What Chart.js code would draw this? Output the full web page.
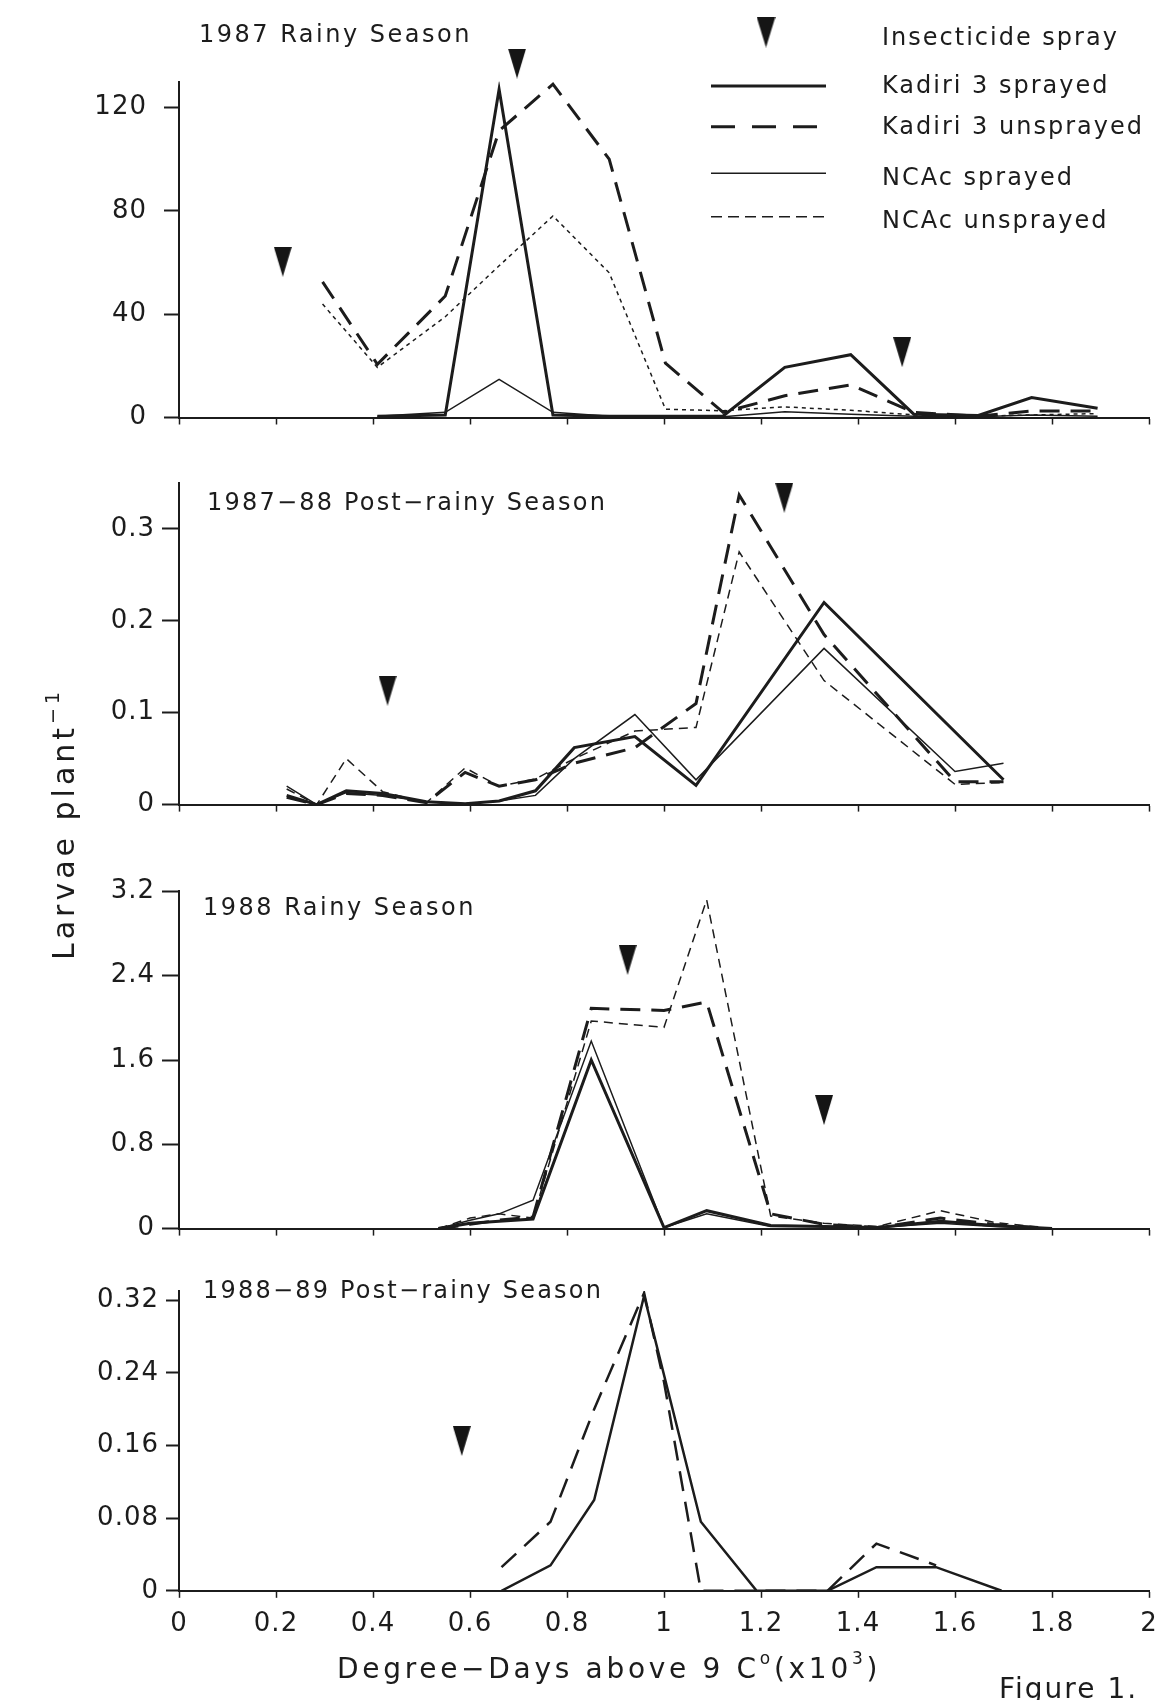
<!DOCTYPE html>
<html>
<head>
<meta charset="utf-8">
<script src="https://cdn.jsdelivr.net/npm/chart.js@4.4.1/dist/chart.umd.min.js"></script>
<style>
  html, body { margin: 0; padding: 0; background: #fff; }
  #page { position: relative; width: 1169px; height: 1700px; overflow: hidden; background: #fff; }
  #page canvas { position: absolute; left: 0; top: 0; }
</style>
</head>
<body>
<div id="page">
  <canvas id="p1" width="1169" height="1700"></canvas>
  <canvas id="p2" width="1169" height="1700"></canvas>
  <canvas id="p3" width="1169" height="1700"></canvas>
  <canvas id="p4" width="1169" height="1700"></canvas>
</div>
<script>
// Данные ---------------------------------------------------------------------------------------------------------------
var xTicks = [0, 0.2, 0.4, 0.6, 0.8, 1, 1.2, 1.4, 1.6, 1.8, 2];

// 1987 Rainy Season
var p1X     = [0.296, 0.409, 0.549, 0.660, 0.771, 0.887, 1.003, 1.122, 1.249, 1.385, 1.515, 1.648, 1.758, 1.894];
var p1K3Spr = [null,  0.5,   1,     127,   1,     0.5,   0.5,   0.6,   19.4,  24.3,  1.3,   0.8,   7.7,   3.6];
var p1K3Uns = [52.5,  20.6,  47,    111,   129,   100,   21,    2,     8.4,   12.6,  2,     0.5,   2.5,   2.5];
var p1NcSpr = [null,  0.5,   2,     14.8,  2,     0.5,   0.5,   0.3,   2.2,   1.3,   0.5,   0.3,   1,     0.5];
var p1NcUns = [43.9,  19.4,  39,    58.7,  78,    56,    3.2,   2.6,   4.1,   2.8,   1,     0.5,   1,     1.5];
var p1SprayX = [0.214, 0.697, 1.491];
var p1SprayY = [60.3, 137, 25.3];
var p1YTicks = [0, 40, 80, 120];

// 1987-88 Post-rainy Season
var p2X     = [0.222, 0.284, 0.345, 0.420, 0.510, 0.590, 0.660, 0.735, 0.815, 0.940, 1.066, 1.155, 1.330, 1.600, 1.700];
var p2K3Spr = [0.010, 0,     0.015, 0.012, 0.003, 0.001, 0.004, 0.015, 0.062, 0.074, 0.021, null,  0.220, null,  0.027];
var p2K3Uns = [0.008, 0,     0.012, 0.010, 0.002, 0.035, 0.020, 0.027, 0.045, 0.062, 0.110, 0.337, 0.185, 0.025, 0.025];
var p2NcSpr = [0.020, 0,     0.013, 0.010, 0.003, 0.001, 0.004, 0.010, 0.050, 0.098, 0.027, null,  0.170, 0.036, 0.045];
var p2NcUns = [0.017, 0,     0.050, 0.014, 0.002, 0.040, 0.020, 0.028, 0.050, 0.080, 0.084, 0.275, 0.135, 0.022, 0.024];
var p2SprayX = [0.430, 1.248];
var p2SprayY = [0.124, 0.334];
var p2YTicks = [0, 0.1, 0.2, 0.3];

// 1988 Rainy Season
var p3X     = [0.535, 0.600, 0.660, 0.730, 0.850, 1.000, 1.088, 1.220, 1.330, 1.440, 1.570, 1.680, 1.800];
var p3K3Spr = [0,     0.05,  0.07,  0.09,  1.60,  0.01,  0.17,  0.03,  0.02,  0.01,  0.07,  0.03,  0];
var p3K3Uns = [0,     0.04,  0.08,  0.11,  2.09,  2.07,  2.15,  0.14,  0.04,  0.01,  0.10,  0.04,  0];
var p3NcSpr = [0,     0.08,  0.14,  0.27,  1.78,  0.01,  0.14,  0.02,  0.02,  0.01,  0.05,  0.02,  0];
var p3NcUns = [0,     0.10,  0.14,  0.10,  1.97,  1.91,  3.12,  0.12,  0.05,  0.02,  0.17,  0.06,  0];
var p3SprayX = [0.925, 1.330];
var p3SprayY = [2.55, 1.125];
var p3YTicks = [0, 0.8, 1.6, 2.4, 3.2];

// 1988-89 Post-rainy Season
var p4X     = [0.665, 0.766, 0.856, 0.959, 1.000, 1.076, 1.191, 1.337, 1.438, 1.561, 1.696];
var p4K3Spr = [0,     0.028, 0.100, 0.325, null,  0.076, 0,     0,     0.026, 0.026, 0];
var p4K3Uns = [0.026, 0.076, 0.200, 0.328, 0.230, 0,     null,  0,     0.052, 0.028, null];
var p4SprayX = [0.583];
var p4SprayY = [0.165];
var p4YTicks = [0, 0.08, 0.16, 0.24, 0.32];

// Оформление -----------------------------------------------------------------------------------------------------------
var INK = '#1c1c1c';
var FONT = 'DejaVu Sans';
var DASH_K3 = [20, 11];
var DASH_NC = [9, 6];

function triangle(w, h) {
    var c = document.createElement('canvas');
    c.width = w;
    c.height = h;
    var g = c.getContext('2d');
    g.fillStyle = '#151515';
    g.beginPath();
    g.moveTo(0, 0);
    g.lineTo(w, 0);
    g.lineTo(w / 2, h);
    g.closePath();
    g.fill();
    return c;
}
var triImg = triangle(18, 30);
var triLegend = triangle(19, 31);

function pts(xs, ys) {
    var out = [];
    for (var i = 0; i < xs.length; i++) {
        if (ys[i] !== null) out.push({x: xs[i], y: ys[i]});
    }
    return out;
}

function series(xs, ys, width, dash) {
    return {
        data: pts(xs, ys),
        borderColor: INK,
        borderWidth: width,
        borderDash: dash || [],
        pointRadius: 0,
        fill: false,
        tension: 0
    };
}

function sprays(xs, ys) {
    return {
        data: pts(xs, ys),
        showLine: false,
        pointStyle: triImg,
        pointRadius: 20,
        pointHoverRadius: 20,
        pointBorderWidth: 0,
        clip: false
    };
}

function text(ctx, s, x, y, size, spacing, align) {
    ctx.save();
    ctx.font = size + 'px "' + FONT + '"';
    ctx.letterSpacing = (spacing || 0) + 'px';
    ctx.fillStyle = INK;
    ctx.textAlign = align || 'left';
    ctx.textBaseline = 'alphabetic';
    ctx.fillText(s, x, y);
    var w = ctx.measureText(s).width;
    ctx.restore();
    return w;
}

function runs(ctx, parts, x, y, size, spacing) {
    parts.forEach(function (p) {
        var sz = p.sup ? Math.round(size * 0.62) : size;
        x += text(ctx, p.t, x, p.sup ? y - size * 0.5 : y, sz, spacing);
    });
}

function legendLine(ctx, y, width, dash) {
    ctx.save();
    ctx.strokeStyle = INK;
    ctx.lineWidth = width;
    ctx.setLineDash(dash);
    ctx.beginPath();
    ctx.moveTo(711, y);
    ctx.lineTo(826, y);
    ctx.stroke();
    ctx.restore();
}

var fmt = function (v) { return String(+v.toFixed(2)); };

function makePanel(id, o) {
    var textPlugin = {
        id: 'texts',
        beforeDraw: function (chart) { chart.ctx.letterSpacing = '1px'; },
        afterDraw: function (chart) { o.draw(chart.ctx); }
    };
    return new Chart(document.getElementById(id), {
        type: 'line',
        data: {datasets: o.datasets},
        options: {
            responsive: false,
            animation: false,
            events: [],
            layout: {padding: {top: o.top, right: 16, left: 0, bottom: 0}},
            plugins: {legend: {display: false}, tooltip: {enabled: false}},
            scales: {
                x: {
                    type: 'linear', min: 0, max: 2,
                    afterBuildTicks: function (s) { s.ticks = xTicks.map(function (v) { return {value: v}; }); },
                    afterFit: function (s) { s.height = 1700 - o.bottom; },
                    grid: {drawOnChartArea: false, tickLength: 7, tickWidth: 1.5, tickColor: INK},
                    border: {color: INK, width: 2},
                    ticks: {display: !!o.xLabels, padding: 11, color: INK, autoSkip: false, maxRotation: 0,
                            font: {family: FONT, size: 26}, callback: fmt}
                },
                y: {
                    min: 0, max: o.max,
                    afterBuildTicks: function (s) { s.ticks = o.yTicks.map(function (v) { return {value: v}; }); },
                    afterFit: function (s) { s.width = 179; },
                    grid: {drawOnChartArea: false, tickLength: o.tl, tickWidth: 2, tickColor: INK},
                    border: {color: INK, width: 2},
                    ticks: {padding: o.pad, color: INK, autoSkip: false, font: {family: FONT, size: 26}, callback: fmt}
                }
            }
        },
        plugins: [textPlugin]
    });
}

// Панель 1 ------------------------------------------------------------------------------------------------------------
makePanel('p1', {
    top: 81.6, bottom: 417.5, max: 130, yTicks: p1YTicks, tl: 15, pad: 17,
    datasets: [
        series(p1X, p1K3Spr, 3),
        series(p1X, p1K3Uns, 3, DASH_K3),
        series(p1X, p1NcSpr, 1.5),
        series(p1X, p1NcUns, 1.5, [4, 4]),
        sprays(p1SprayX, p1SprayY)
    ],
    draw: function (ctx) {
        text(ctx, '1987 Rainy Season', 199, 41.5, 24, 2.5);
        ctx.drawImage(triLegend, 766 - 9.5, 16.5);
        text(ctx, 'Insecticide spray', 882, 45, 24, 2);
        legendLine(ctx, 86, 3, []);
        text(ctx, 'Kadiri 3 sprayed', 882, 93, 24, 2);
        legendLine(ctx, 126.7, 3, [24, 17]);
        text(ctx, 'Kadiri 3 unsprayed', 882, 133.5, 24, 2);
        legendLine(ctx, 173.3, 1.5, []);
        text(ctx, 'NCAc sprayed', 882, 185, 24, 2);
        legendLine(ctx, 216.7, 1.5, [11, 6]);
        text(ctx, 'NCAc unsprayed', 882, 228, 24, 2);
    }
});

// Панель 2 ------------------------------------------------------------------------------------------------------------
makePanel('p2', {
    top: 483, bottom: 804.6, max: 0.35, yTicks: p2YTicks, tl: 17, pad: 7,
    datasets: [
        series(p2X, p2K3Spr, 3),
        series(p2X, p2K3Uns, 3, DASH_K3),
        series(p2X, p2NcSpr, 1.5),
        series(p2X, p2NcUns, 1.5, DASH_NC),
        sprays(p2SprayX, p2SprayY)
    ],
    draw: function (ctx) {
        text(ctx, '1987\u221288 Post\u2212rainy Season', 207, 510, 24, 2.2);
        // подпись оси Y
        ctx.save();
        ctx.translate(74, 960);
        ctx.rotate(-Math.PI / 2);
        runs(ctx, [{t: 'Larvae plant'}, {t: '\u22121', sup: true}], 0, 0, 30, 4);
        ctx.restore();
    }
});

// Панель 3 ------------------------------------------------------------------------------------------------------------
makePanel('p3', {
    top: 891.4, bottom: 1228.6, max: 3.2, yTicks: p3YTicks, tl: 17, pad: 7,
    datasets: [
        series(p3X, p3K3Spr, 3),
        series(p3X, p3K3Uns, 3, DASH_K3),
        series(p3X, p3NcSpr, 1.5),
        series(p3X, p3NcUns, 1.5, DASH_NC),
        sprays(p3SprayX, p3SprayY)
    ],
    draw: function (ctx) {
        text(ctx, '1988 Rainy Season', 203, 915, 24, 2.5);
    }
});

// Панель 4 ------------------------------------------------------------------------------------------------------------
makePanel('p4', {
    top: 1291.1, bottom: 1590.8, max: 0.33, yTicks: p4YTicks, tl: 13, pad: 7, xLabels: true,
    datasets: [
        series(p4X, p4K3Spr, 2.5),
        series(p4X, p4K3Uns, 2.5, DASH_K3),
        sprays(p4SprayX, p4SprayY)
    ],
    draw: function (ctx) {
        text(ctx, '1988\u221289 Post\u2212rainy Season', 203, 1298, 24, 2.2);
        runs(ctx, [
            {t: 'Degree\u2212Days above 9 C'}, {t: 'o', sup: true},
            {t: '(x10'}, {t: '3', sup: true}, {t: ')'}
        ], 337, 1678, 28, 3.7);
        text(ctx, 'Figure 1.', 999, 1698, 28, 2);
    }
});
</script>
</body>
</html>
